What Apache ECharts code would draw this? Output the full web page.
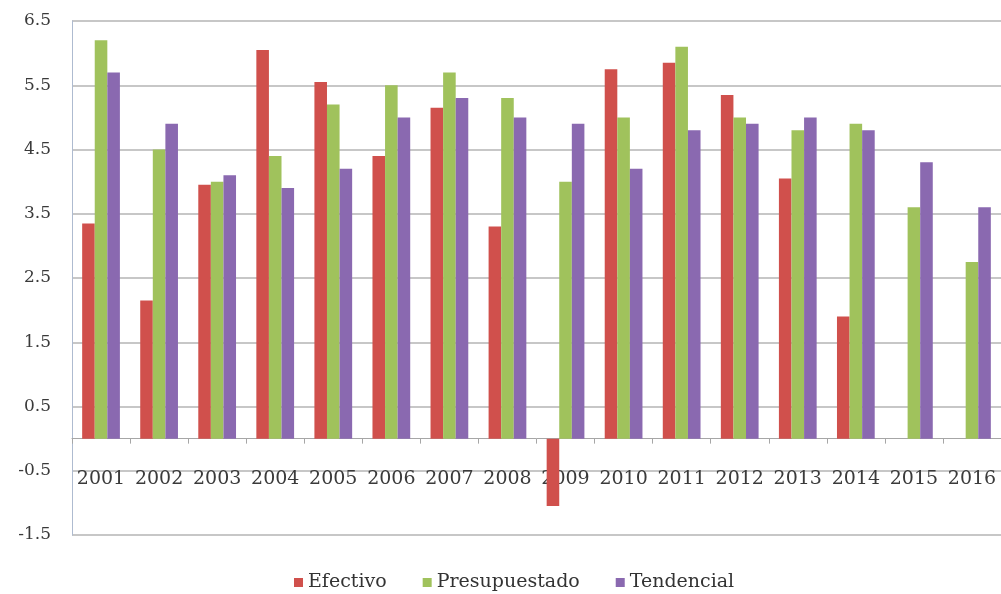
<!DOCTYPE html>
<html>
<head>
<meta charset="utf-8">
<script src="https://cdn.jsdelivr.net/npm/echarts@6/dist/echarts.min.js"></script>
<style>
  html, body { margin: 0; padding: 0; background: #ffffff; }
  #chart { width: 1001px; height: 594px; }
</style>
</head>
<body>
<div id="chart"></div>
<script>
// Years on the category axis
const years = ['2001','2002','2003','2004','2005','2006','2007','2008',
               '2009','2010','2011','2012','2013','2014','2015','2016'];

// Growth rates per year (%)
const efectivo      = [3.35, 2.15, 3.95, 6.05, 5.55, 4.4, 5.15, 3.3, -1.05, 5.75, 5.85, 5.35, 4.05, 1.9, null, null];
const presupuestado = [6.2, 4.5, 4.0, 4.4, 5.2, 5.5, 5.7, 5.3, 4.0, 5.0, 6.1, 5.0, 4.8, 4.9, 3.6, 2.75];
const tendencial    = [5.7, 4.9, 4.1, 3.9, 4.2, 5.0, 5.3, 5.0, 4.9, 4.2, 4.8, 4.9, 5.0, 4.8, 4.3, 3.6];

// Value axis range; labels and gridlines sit on the half steps
const yMin = -1.5;
const yMax = 6.5;
const yStep = 0.5;

const serifFont = '"DejaVu Serif", "Liberation Serif", serif';
const colors = ['#D0504C', '#A0C25C', '#8A69B0'];

// Plot box
const gridTop = 21;
const gridBottom = 59;
const chartHeight = 594;
const plotHeight = chartHeight - gridTop - gridBottom;
// lift the category axis (line, ticks and labels) up to the zero value
const zeroOffset = -plotHeight * (0 - yMin) / (yMax - yMin);

const chart = echarts.init(document.getElementById('chart'), null, { renderer: 'canvas' });

chart.setOption({
  animation: false,
  backgroundColor: '#ffffff',
  color: colors,
  grid: { left: 72, right: -4, top: gridTop, bottom: gridBottom, containLabel: false },
  legend: {
    top: 568,
    left: 289,
    icon: 'rect',
    itemWidth: 9,
    itemHeight: 9,
    itemGap: 36,
    textStyle: { fontFamily: serifFont, fontSize: 19, color: '#333333' },
    data: ['Efectivo', 'Presupuestado', 'Tendencial']
  },
  xAxis: {
    type: 'category',
    data: years,
    offset: zeroOffset,
    axisLine: { onZero: false, lineStyle: { color: '#a6a6a6', width: 1 } },
    axisTick: { show: true, alignWithLabel: false, length: 5, lineStyle: { color: '#a6a6a6' } },
    axisLabel: {
      interval: 0,
      margin: 31,
      fontFamily: serifFont,
      fontSize: 19,
      color: '#3a3a3a'
    },
    splitLine: { show: false }
  },
  yAxis: {
    type: 'value',
    min: yMin,
    max: yMax,
    interval: yStep,
    axisLine: { show: true, onZero: false, lineStyle: { color: '#aebbd0', width: 1 } },
    axisTick: { show: false },
    axisLabel: {
      margin: 21,
      fontFamily: serifFont,
      fontSize: 17,
      color: '#3a3a3a',
      formatter: function (v) {
        return Number.isInteger(Math.round(v * 100) / 100) ? '' : v.toFixed(1);
      }
    },
    splitLine: {
      show: true,
      lineStyle: { color: ['#b4b4b4', 'rgba(0,0,0,0)'], width: 1.5 }
    }
  },
  series: [
    { name: 'Efectivo', type: 'bar', data: efectivo, barGap: '0%', barCategoryGap: '35%' },
    { name: 'Presupuestado', type: 'bar', data: presupuestado, barGap: '0%', barCategoryGap: '35%' },
    { name: 'Tendencial', type: 'bar', data: tendencial, barGap: '0%', barCategoryGap: '35%' }
  ]
});
</script>
</body>
</html>
